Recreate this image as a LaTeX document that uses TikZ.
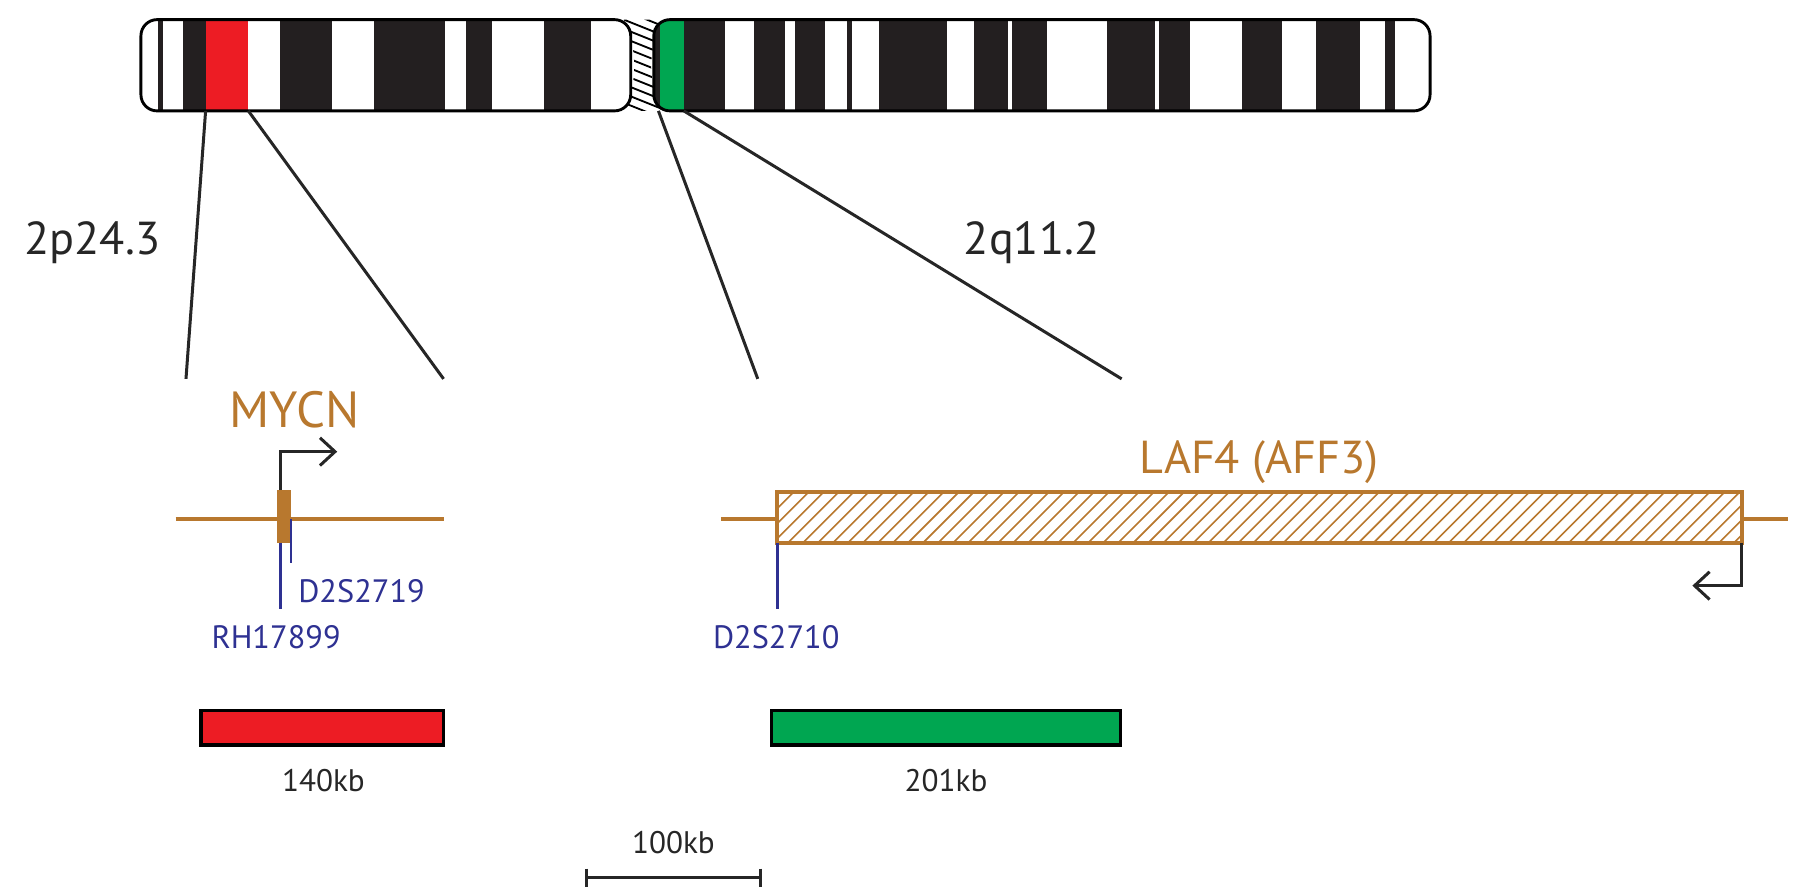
\documentclass[tikz,border=0pt]{standalone}
\usepackage{fontspec}
\setmainfont{PT Sans}
\begin{document}
\begin{tikzpicture}[x=1pt,y=-1pt,
  gene/.style={draw=orng,line width=3.5pt},
  mk/.style={draw=mblue,line width=3pt},
  conn/.style={draw=black!85,line width=2.6pt},
  lbl/.style={font=\fontsize{40}{40}\selectfont,text=black!85},
  blab/.style={font=\fontsize{28}{28}\selectfont,text=mblue},
  klab/.style={font=\fontsize{27}{27}\selectfont,text=black!85}]
\definecolor{orng}{HTML}{B8782E}
\definecolor{mblue}{HTML}{2E3192}
\definecolor{cred}{HTML}{ED1C24}
\definecolor{cgreen}{HTML}{00A651}
\definecolor{cblk}{HTML}{231F20}
\useasboundingbox (0,0) rectangle (1560,771);
% centromere
\begin{scope}
\clip (540,17) .. controls (552,40) and (552,75) .. (540,96) -- (575,96) .. controls (560,75) and (560,40) .. (575,17) -- cycle;
\foreach \k in {0,...,14} \draw[line width=1.6pt] (530,{5+\k*8}) -- (585,{27+\k*8});
\end{scope}
% p arm
\begin{scope}
\clip[rounded corners=14] (122,17) rectangle (546,96);
\foreach \a/\b in {137/141,158/178,242/287,324/385,403/426,471/512}
  \fill[cblk] (\a,17) rectangle (\b,96);
\fill[cred] (178,17) rectangle (215,96);
\end{scope}
\draw[line width=2.5pt,rounded corners=14] (122,17) rectangle (546,96);
% q arm
\begin{scope}
\clip[rounded corners=14] (566,17) rectangle (1238,96);
\foreach \a/\b in {566/571,592/597,597/628,653/680,688/714,733/738,761/820,843/873,876/906,958/1000,1003/1030,1075/1110,1139/1177,1199/1208}
  \fill[cblk] (\a,17) rectangle (\b,96);
\fill[cgreen] (571,17) rectangle (592,96);
\end{scope}
\draw[line width=2.5pt,rounded corners=14] (566,17) rectangle (1238,96);
% zoom lines
\coordinate (p1) at (178,96); \coordinate (p2) at (215,96);
\coordinate (q1) at (570,96); \coordinate (q2) at (592,96);
\coordinate (a1) at (161,328); \coordinate (a2) at (384,328);
\coordinate (b1) at (656,328); \coordinate (b2) at (971,328);
\draw[conn] (p1) -- (a1); \draw[conn] (p2) -- (a2);
\draw[conn] (q1) -- (b1); \draw[conn] (q2) -- (b2);
\node[lbl] (l1) at (80,210) {2p24.3};
\node[lbl] (l2) at (893,210) {2q11.2};
% MYCN
\node[lbl,text=orng,font=\fontsize{44}{44}\selectfont] (mycn) at (255,355) {MYCN};
\draw[gene] (152,449) -- (384,449);
\fill[orng] (240,424) rectangle (252,470);
\draw[conn] (243,424) -- (243,391) -- (288,391);
\draw[conn] (277,379) -- (290,391) -- (277,403);
\draw[mk] (243,470) -- (243,527);
\draw[mk,line width=2.4pt] (252,449) -- (252,487);
\node[blab] (d1) at (313,512) {D2S2719};
\node[blab] (d2) at (239,552) {RH17899};
% LAF4
\draw[gene] (624,449) -- (673,449);
\draw[gene] (1508,449) -- (1548,449);
\begin{scope}
\clip (673,426) rectangle (1508,470);
\foreach \k in {0,...,70} \draw[orng,line width=1.4pt] ({630+\k*13},470) -- ({674+\k*13},426);
\end{scope}
\draw[orng,line width=3.5pt] (673,426) rectangle (1508,470);
\node[lbl,text=orng,font=\fontsize{40}{40}\selectfont] (laf) at (1090,400) {LAF4 (AFF3)};
\draw[conn] (1508,470) -- (1508,507) -- (1467,507);
\draw[conn] (1480,495) -- (1467,507) -- (1480,519);
\draw[mk] (673,470) -- (673,527);
\node[blab] (d3) at (672,552) {D2S2710};
% bars
\draw[line width=3pt,fill=cred] (174,615) rectangle (384,645);
\draw[line width=3pt,fill=cgreen] (668,615) rectangle (970,645);
\node[klab] (k1) at (280,676) {140kb};
\node[klab] (k2) at (819,676) {201kb};
\draw[conn] (508,760) -- (658,760);
\draw[conn] (508,752) -- (508,768); \draw[conn] (658,752) -- (658,768);
\node[klab] (k3) at (583,729) {100kb};
\end{tikzpicture}
\end{document}
